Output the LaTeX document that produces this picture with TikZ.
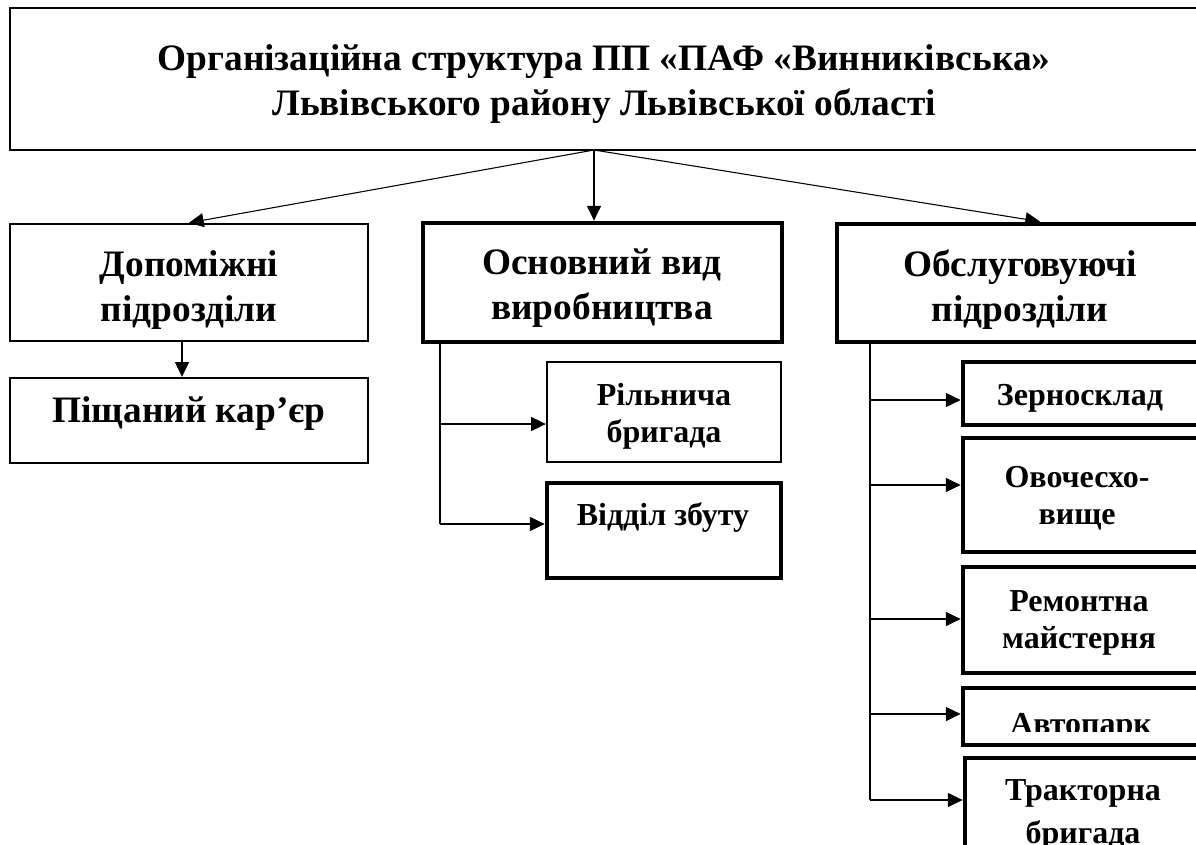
\documentclass[tikz,border=0pt]{standalone}
\usepackage{fontspec}
\setmainfont{Liberation Serif}
\usetikzlibrary{arrows.meta,fit}
\tikzset{
  box/.style={draw, inner sep=0pt},
  thinbox/.style={box, line width=1.8pt},
  thickbox/.style={box, line width=3.6pt},
  topbox/.style={box, line width=2.2pt},
  conn/.style={line width=0.8pt},
  arr/.style={conn, -{Triangle[length=11pt,width=10.5pt]}},
  titletext/.style={font=\fontsize{28pt}{34pt}\selectfont\bfseries, align=center, anchor=base, inner sep=0pt},
  bigtext/.style={font=\fontsize{28pt}{33.75pt}\selectfont\bfseries, align=center, anchor=base, inner sep=0pt},
  smalltext/.style={font=\fontsize{24pt}{27.75pt}\selectfont\bfseries, align=center, anchor=base, inner sep=0pt},
}
\begin{document}
\begin{tikzpicture}[x=0.75pt,y=-0.75pt]
\useasboundingbox (0,0) rectangle (1196,845);
% boxes
\node[topbox, fit={(10,8) (1230,150)}] (top) {};
\node[thinbox, fit={(10,224) (368,341)}] (dop) {};
\node[thinbox, fit={(10,378) (368,463)}] (kar) {};
\node[thickbox, fit={(423,223) (782,342)}] (osn) {};
\node[thinbox, fit={(547,362) (781,462)}] (ril) {};
\node[thickbox, fit={(547,483) (781,578)}] (zb) {};
\node[thickbox, fit={(837,224) (1243,342)}] (obs) {};
\node[thickbox, fit={(963,362) (1250,425)}] (zer) {};
\node[thickbox, fit={(963,438) (1250,552)}] (ovo) {};
\node[thickbox, fit={(963,567) (1250,673)}] (rem) {};
\node[thickbox, fit={(963,688) (1250,745)}] (avt) {};
\node[thickbox, fit={(965,758) (1250,900)}] (tra) {};
% texts (anchor base = baseline of the last line)
\node[titletext] (ttitle) at (604,116) {Організаційна структура ПП «ПАФ «Винниківська»\\Львівського району Львівської області};
\node[bigtext] (tdop) at (189,321) {Допоміжні\\підрозділи};
\node[bigtext] (tkar) at (189,422) {Піщаний кар’єр};
\node[bigtext] (tosn) at (602,319) {Основний вид\\виробництва};
\node[bigtext] (tobs) at (1020,321) {Обслуговуючі\\підрозділи};
\node[smalltext] (tril) at (664,442) {Рільнича\\бригада};
\node[smalltext] (tzb) at (663,525) {Відділ збуту};
\node[smalltext] (tzer) at (1080,405) {Зерносклад};
\node[smalltext] (tovo) at (1077,524) {Овочесхо-\\вище};
\node[smalltext] (trem) at (1079,648) {Ремонтна\\майстерня};
\begin{scope}
\clip (963,690) rectangle (1250,731);
\node[smalltext] (tavt) at (1081,734) {Автопарк};
\end{scope}
\node[smalltext, font=\fontsize{24pt}{32.25pt}\selectfont\bfseries] (ttra) at (1083,843) {Тракторна\\бригада};
% connectors
\coordinate (hub) at (594,150);
\coordinate (kx) at (182,0);
\draw[arr] (hub) -- (dop.north);
\draw[arr] (hub) -- (osn.north -| hub);
\draw[arr] (hub) -- (obs.north);
\draw[arr] (dop.south -| kx) -- (kar.north -| kx);
\coordinate (m1) at (440,424);
\coordinate (m2) at (440,524);
\draw[conn] (osn.south -| m1) -- (m2);
\draw[arr] (m1) -- (m1 -| ril.west);
\draw[arr] (m2) -- (m2 -| zb.west);
\coordinate (r1) at (870,400);
\coordinate (r2) at (870,485);
\coordinate (r3) at (870,619);
\coordinate (r4) at (870,714);
\coordinate (r5) at (870,800);
\draw[conn] (obs.south -| r1) -- (r5);
\draw[arr] (r1) -- (r1 -| zer.west);
\draw[arr] (r2) -- (r2 -| ovo.west);
\draw[arr] (r3) -- (r3 -| rem.west);
\draw[arr] (r4) -- (r4 -| avt.west);
\draw[arr] (r5) -- (r5 -| tra.west);
\end{tikzpicture}
\end{document}
